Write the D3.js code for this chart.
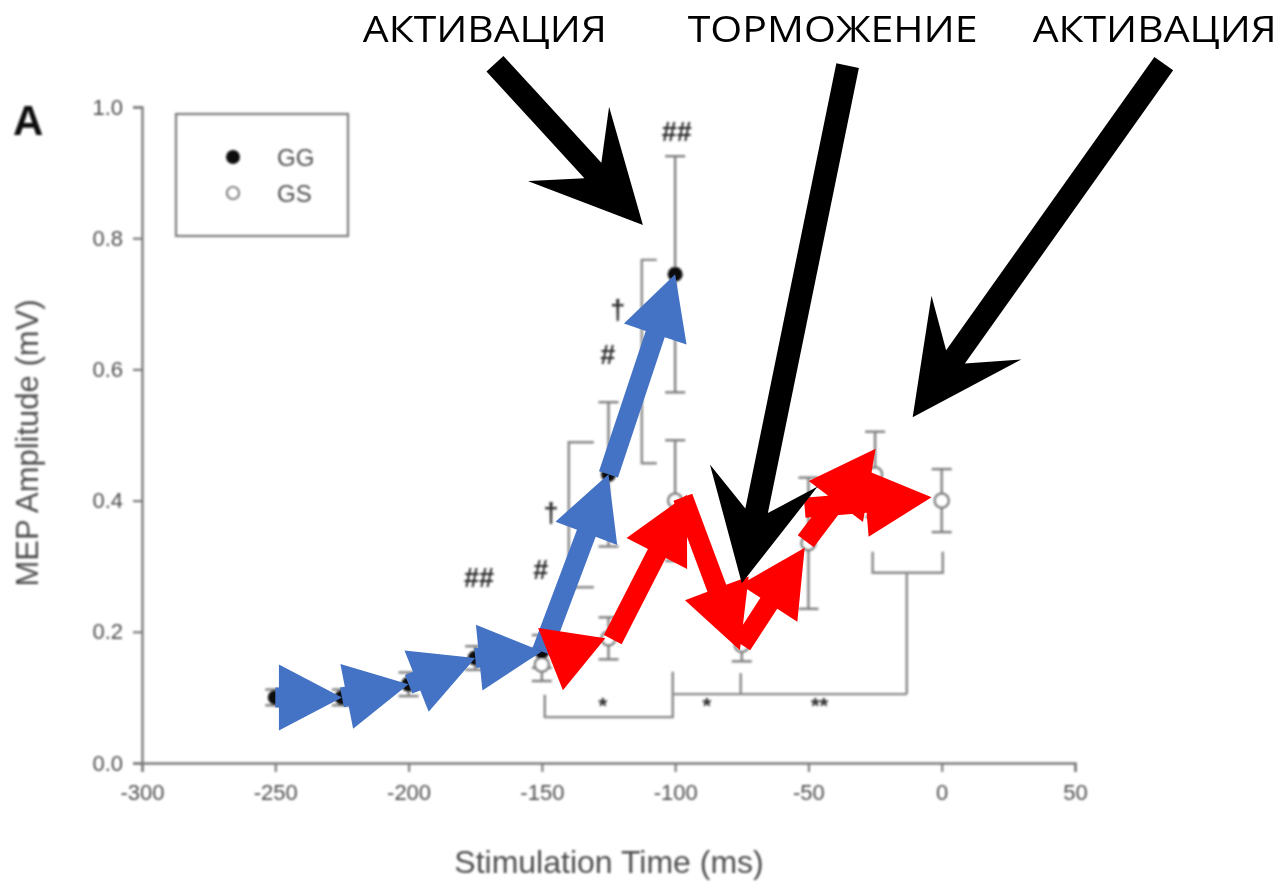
<!DOCTYPE html>
<html><head><meta charset="utf-8">
<script src="https://cdn.jsdelivr.net/npm/d3@7"></script>
<style>body{margin:0;background:#fff}svg{display:block}</style>
</head><body>
<svg id="fig" width="1283" height="887"></svg>
<script>
// ---- data: MEP amplitude (mV) vs stimulation time (ms), mean ± SEM ----
const ggTime = [-250, -225, -200, -175, -150, -125, -100];
const ggMean = [0.10, 0.10, 0.12, 0.16, 0.17, 0.44, 0.745];
const ggSem  = [0.012, 0.012, 0.018, 0.018, 0.025, 0.11, 0.18];

const gsTime = [-150, -125, -100, -75, -50, -25, 0];
const gsMean = [0.15, 0.19, 0.40, 0.18, 0.335, 0.44, 0.40];
const gsSem  = [0.025, 0.032, 0.092, 0.025, 0.10, 0.065, 0.048];

const xTicks = [-300, -250, -200, -150, -100, -50, 0, 50];
const yTicks = [0.0, 0.2, 0.4, 0.6, 0.8, 1.0];

// significance symbols (time, amplitude, text)
const sigTime = [-173.6, -150.4, -146.6, -125.3, -121.5, -99.4, -127.1, -88.1, -45.8];
const sigAmp  = [0.282, 0.294, 0.381, 0.622, 0.690, 0.962, 0.088, 0.088, 0.088];
const sigText = ["##", "#", "\u2020", "#", "\u2020", "##", "*", "*", "**"];

// comparison brackets, each a polyline in (time, amplitude)
const brackets = [
  [[-130.5, 0.489], [-139.9, 0.489], [-139.9, 0.268], [-130.5, 0.268]],
  [[-106.9, 0.767], [-112.5, 0.767], [-112.5, 0.457], [-106.9, 0.457]],
  [[-148.9, 0.104], [-148.9, 0.070], [-100.9, 0.070], [-100.9, 0.139]],
  [[-100.9, 0.105], [-13.1, 0.105]],
  [[-75.4, 0.105], [-75.4, 0.137]],
  [[-13.1, 0.105], [-13.1, 0.290]],
  [[-25.9, 0.322], [-25.9, 0.290], [0.4, 0.290], [0.4, 0.322]]
];

// red trend arrows over the GS series: [fromTime, fromAmp, toTime, toAmp]
const gsTrend = [
  [-138.8, 0.198, -142.1, 0.111],
  [-123.4, 0.188, -95.6, 0.409],
  [-97.1, 0.405, -75.7, 0.172],
  [-75.0, 0.180, -51.4, 0.328],
  [-51.0, 0.338, -24.8, 0.479],
  [-51.4, 0.389, -3.8, 0.405]
];

// callout arrows with their captions
const calloutText = ["АКТИВАЦИЯ", "ТОРМОЖЕНИЕ", "АКТИВАЦИЯ"];
const calloutFrom = [[-167.6, 1.066], [-35.3, 1.063], [83.3, 1.066]];
const calloutTo   = [[-112.1, 0.820], [-75.0, 0.274], [-10.9, 0.527]];
const calloutLabelTime = [-171.4, -40.9, 79.9];

// ---- layout ----
const svg = d3.select("#fig");
const x = d3.scaleLinear().domain([-300, 50]).range([142, 1075]);
const y = d3.scaleLinear().domain([0, 1]).range([763, 107]);
const axisGrey = "#7c7c7c", textGrey = "#4d4d4d";
const sans = "'Liberation Sans', Arial, sans-serif";

const defs = svg.append("defs");
defs.append("filter").attr("id", "soft").attr("x", "-5%").attr("y", "-5%")
  .attr("width", "110%").attr("height", "110%")
  .append("feGaussianBlur").attr("stdDeviation", 1.25);

const chart = svg.append("g").attr("filter", "url(#soft)");

// axes
const xAxis = chart.append("g").attr("transform", `translate(0,${y(0)})`)
  .call(d3.axisBottom(x).tickValues(xTicks).tickFormat(d => String(d)).tickSize(9).tickPadding(12));
const yAxis = chart.append("g").attr("transform", `translate(${x(-300)},0)`)
  .call(d3.axisLeft(y).tickValues(yTicks).tickFormat(d3.format(".1f")).tickSize(9).tickPadding(10));
[xAxis, yAxis].forEach(a => {
  a.select(".domain").attr("stroke", axisGrey).attr("stroke-width", 2.4);
  a.selectAll(".tick line").attr("stroke", axisGrey).attr("stroke-width", 2.2);
  a.selectAll(".tick text").attr("fill", textGrey)
    .style("font-family", sans).style("font-size", "22px");
});

chart.append("text").attr("x", 609).attr("y", 873).attr("text-anchor", "middle")
  .attr("fill", textGrey).style("font-family", sans)
  .style("font-size", "32px").text("Stimulation Time (ms)");
chart.append("text").attr("transform", "translate(38,443) rotate(-90)").attr("text-anchor", "middle")
  .attr("fill", textGrey).style("font-family", sans)
  .style("font-size", "31px").text("MEP Amplitude (mV)");
chart.append("text").attr("x", 13).attr("y", 135).attr("fill", "#111")
  .style("font-family", sans).style("font-weight", "bold")
  .style("font-size", "42px").text("A");

// legend
const lg = chart.append("g");
lg.append("rect").attr("x", 176).attr("y", 114).attr("width", 172).attr("height", 122)
  .attr("fill", "none").attr("stroke", axisGrey).attr("stroke-width", 2.2);
lg.append("circle").attr("cx", 233).attr("cy", 157).attr("r", 7).attr("fill", "#111");
lg.append("circle").attr("cx", 233).attr("cy", 193).attr("r", 6).attr("fill", "#fff")
  .attr("stroke", "#777").attr("stroke-width", 2.2);
lg.selectAll("text.lg").data(["GG", "GS"]).join("text").attr("class", "lg")
  .attr("x", 277).attr("y", (d, i) => 166 + i * 36).attr("fill", textGrey)
  .style("font-family", sans).style("font-size", "24px").text(d => d);

// brackets
const line = d3.line().x(d => x(d[0])).y(d => y(d[1]));
chart.selectAll("path.br").data(brackets).join("path").attr("class", "br")
  .attr("d", line).attr("fill", "none").attr("stroke", "#888").attr("stroke-width", 2.4);

// error bars
function errorBars(times, means, sems) {
  const g = chart.append("g").attr("stroke", "#808080").attr("stroke-width", 2.4).attr("fill", "none");
  times.forEach((t, i) => {
    const cx = x(t), lo = y(means[i] - sems[i]), hi = y(means[i] + sems[i]);
    g.append("line").attr("x1", cx).attr("x2", cx).attr("y1", lo).attr("y2", hi);
    g.append("line").attr("x1", cx - 10).attr("x2", cx + 10).attr("y1", lo).attr("y2", lo);
    g.append("line").attr("x1", cx - 10).attr("x2", cx + 10).attr("y1", hi).attr("y2", hi);
  });
}
errorBars(gsTime, gsMean, gsSem);
errorBars(ggTime, ggMean, ggSem);

chart.selectAll("circle.gs").data(gsTime).join("circle").attr("class", "gs")
  .attr("cx", d => x(d)).attr("cy", (d, i) => y(gsMean[i])).attr("r", 7)
  .attr("fill", "#fff").attr("stroke", "#777").attr("stroke-width", 2.4);
chart.selectAll("circle.gg").data(ggTime).join("circle").attr("class", "gg")
  .attr("cx", d => x(d)).attr("cy", (d, i) => y(ggMean[i])).attr("r", 7.5).attr("fill", "#111");

// significance symbols
chart.selectAll("text.sig").data(sigText).join("text").attr("class", "sig")
  .attr("x", (d, i) => x(sigTime[i])).attr("y", (d, i) => y(sigAmp[i]))
  .attr("text-anchor", "middle").attr("dominant-baseline", "central")
  .attr("fill", "#2a2a2a").style("font-family", sans)
  .style("font-size", d => d.startsWith("*") ? "22px" : "27px").style("font-weight", "bold")
  .text(d => d);

// ---- overlay arrows ----
function blockArrow(x0, y0, x1, y1, o) {
  const dx = x1 - x0, dy = y1 - y0, L = Math.hypot(dx, dy);
  const ux = dx / L, uy = dy / L, px = -uy, py = ux;
  const hl = Math.min(o.headLen, L);
  const nk = o.neck * hl / o.headLen;
  const pt = (a, b) => [x1 - ux * a + px * b, y1 - uy * a + py * b];
  if (hl >= L - 0.5) return [pt(hl, o.headHalf), [x1, y1], pt(hl, -o.headHalf)];
  return [
    [x0 + px * o.shaft / 2, y0 + py * o.shaft / 2],
    pt(nk, o.shaft / 2), pt(hl, o.headHalf), [x1, y1], pt(hl, -o.headHalf), pt(nk, -o.shaft / 2),
    [x0 - px * o.shaft / 2, y0 - py * o.shaft / 2]
  ];
}
const poly = p => "M" + p.map(q => q.join(",")).join("L") + "Z";

// blue: consecutive GG means
const blue = { shaft: 20, headLen: 63, headHalf: 33, neck: 63 };
const ggPairs = d3.pairs(d3.range(ggTime.length));
svg.selectAll("path.blue").data(ggPairs).join("path").attr("class", "blue")
  .attr("d", ([a, b]) => poly(blockArrow(x(ggTime[a]), y(ggMean[a]), x(ggTime[b]), y(ggMean[b]), blue)))
  .attr("fill", "#4472C4");

// red: GS trend
const red = { shaft: 20, headLen: 66, headHalf: 34, neck: 66 };
svg.selectAll("path.red").data(gsTrend).join("path").attr("class", "red")
  .attr("d", d => poly(blockArrow(x(d[0]), y(d[1]), x(d[2]), y(d[3]), red)))
  .attr("fill", "#FF0000");

// black callouts
const black = { shaft: 23, headLen: 110, headHalf: 55, neck: 74 };
svg.selectAll("path.callout").data(calloutFrom).join("path").attr("class", "callout")
  .attr("d", (d, i) => poly(blockArrow(x(d[0]), y(d[1]), x(calloutTo[i][0]), y(calloutTo[i][1]), black)))
  .attr("fill", "#000");
const capWidth = [244, 290, 244];
svg.selectAll("text.cap").data(calloutText).join("text").attr("class", "cap")
  .attr("x", (d, i) => x(calloutLabelTime[i]) - capWidth[i] / 2).attr("y", 42)
  .attr("textLength", (d, i) => capWidth[i]).attr("lengthAdjust", "spacingAndGlyphs")
  .attr("fill", "#000").style("font-family", "'Open Sans', sans-serif").style("font-size", "36px")
  .text(d => d);
</script>
</body></html>
